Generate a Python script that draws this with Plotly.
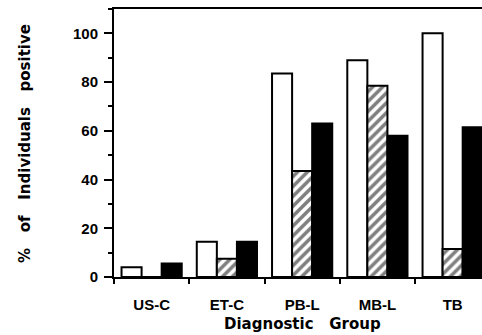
import plotly.graph_objects as go

categories = ["US-C", "ET-C", "PB-L", "MB-L", "TB"]
open_vals = [4, 14.5, 83.5, 89, 100]
hatched_vals = [0, 7.5, 43.5, 78.5, 11.5]
solid_vals = [5.5, 14.5, 63, 58, 61.5]
y_ticks = [0, 20, 40, 60, 80, 100]

tick_font = dict(family="Liberation Sans, Arial, sans-serif", size=15, color="black", weight="bold")
title_font = dict(family="DejaVu Sans, sans-serif", size=15, color="black", weight="bold")

fig = go.Figure()
fig.add_trace(go.Bar(x=categories, y=open_vals, marker=dict(color="white", line=dict(color="black", width=2))))
fig.add_trace(go.Bar(x=categories, y=hatched_vals,
                     marker=dict(color="white", line=dict(color="black", width=2),
                                 pattern=dict(shape="/", fgcolor="black", bgcolor="white", size=7, solidity=0.5))))
fig.add_trace(go.Bar(x=categories, y=solid_vals, marker=dict(color="black", line=dict(color="black", width=2))))

fig.update_layout(
    width=482, height=335,
    margin=dict(l=114, r=0, t=9, b=58),
    paper_bgcolor="white", plot_bgcolor="white",
    showlegend=False,
    barmode="group", bargap=0.2, bargroupgap=0,
)
fig.update_xaxes(
    type="category", range=[-0.5, 4.39],
    showline=True, linecolor="black", linewidth=2, mirror=True,
    ticks="outside", tickson="boundaries", ticklen=5, tickwidth=2, tickcolor="black",
    tickfont=tick_font, ticklabelstandoff=13, showgrid=False, zeroline=False,
)
fig.update_yaxes(
    range=[0, 110], tickvals=y_ticks,
    showline=True, linecolor="black", linewidth=2,
    ticks="outside", ticklen=8, tickwidth=2, tickcolor="black",
    minor=dict(dtick=10, ticks="outside", ticklen=4, tickwidth=2, tickcolor="black", showgrid=False),
    tickfont=tick_font, ticklabelstandoff=3, showgrid=False, zeroline=False,
)
fig.add_annotation(text="%\u00a0\u00a0 of \u00a0\u00a0Individuals\u00a0\u00a0 positive",
                   xref="paper", yref="paper", x=-0.242, y=0.5, textangle=-90,
                   showarrow=False, font=title_font, xanchor="center", yanchor="middle")
fig.add_annotation(text="Diagnostic\u00a0\u00a0 Group",
                   xref="paper", yref="paper", x=0.512, y=-0.177,
                   showarrow=False, font=title_font, xanchor="center", yanchor="middle")

fig.write_html("out.html")
